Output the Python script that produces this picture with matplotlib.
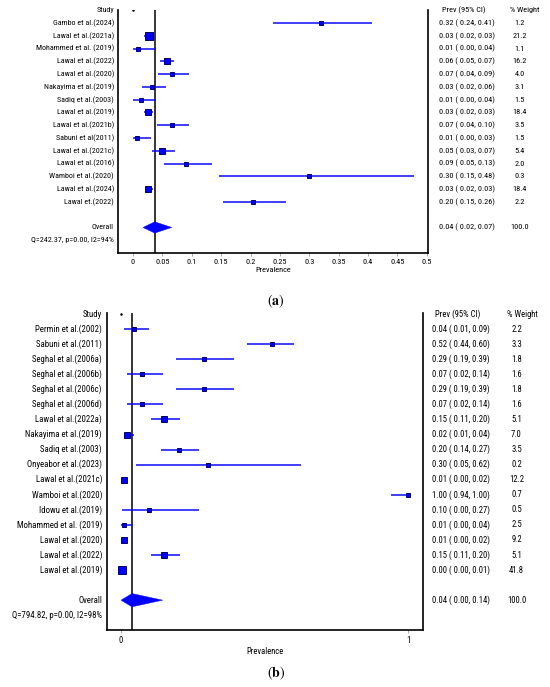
import matplotlib
matplotlib.use("Agg")
import matplotlib.pyplot as plt
import matplotlib.transforms as mtransforms
from matplotlib.patches import Polygon
from matplotlib import font_manager

# ---------------- data: panel (a) ----------------
studies_a = ["Gambo et al.(2024)", "Lawal et al.(2021a)", "Mohammed et al. (2019)", "Lawal et al.(2022)",
             "Lawal et al.(2020)", "Nakayima et al.(2019)", "Sadiq et al.(2003)", "Lawal et al.(2019)",
             "Lawal et al.(2021b)", "Sabuni et al(2011)", "Lawal et al.(2021c)", "Lawal et al.(2016)",
             "Wamboi et al.(2020)", "Lawal et al.(2024)", "Lawal et.(2022)"]
est_a = [0.320, 0.027, 0.009, 0.058, 0.067, 0.033, 0.013, 0.025, 0.066, 0.006, 0.050, 0.090, 0.300, 0.026, 0.204]
lo_a = [0.238, 0.018, 0.000, 0.046, 0.043, 0.015, 0.000, 0.019, 0.041, 0.000, 0.033, 0.053, 0.146, 0.020, 0.153]
hi_a = [0.406, 0.034, 0.039, 0.070, 0.095, 0.056, 0.040, 0.034, 0.095, 0.030, 0.071, 0.134, 0.478, 0.034, 0.260]
prev_txt_a = ["0.32", "0.03", "0.01", "0.06", "0.07", "0.03", "0.01", "0.03", "0.07", "0.01", "0.05", "0.09", "0.30", "0.03", "0.20"]
lo_txt_a = ["0.24", "0.02", "0.00", "0.05", "0.04", "0.02", "0.00", "0.02", "0.04", "0.00", "0.03", "0.05", "0.15", "0.02", "0.15"]
hi_txt_a = ["0.41", "0.03", "0.04", "0.07", "0.09", "0.06", "0.04", "0.03", "0.10", "0.03", "0.07", "0.13", "0.48", "0.03", "0.26"]
weight_a = [1.2, 21.2, 1.1, 16.2, 4.0, 3.1, 1.5, 18.4, 3.5, 1.5, 5.4, 2.0, 0.3, 18.4, 2.2]
overall_a = (0.037, 0.017, 0.066)
overall_txt_a = ("0.04", "0.02", "0.07", "100.0")
q_txt_a = "Q=242.37, p=0.00, I2=94%"
ticks_a = [0, 0.05, 0.1, 0.15, 0.2, 0.25, 0.3, 0.35, 0.4, 0.45, 0.5]
ticklabels_a = ["0", "0.05", "0.1", "0.15", "0.2", "0.25", "0.3", "0.35", "0.4", "0.45", "0.5"]

# ---------------- data: panel (b) ----------------
studies_b = ["Permin et al.(2002)", "Sabuni et al.(2011)", "Seghal et al.(2006a)", "Seghal et al.(2006b)",
             "Seghal et al.(2006c)", "Seghal et al.(2006d)", "Lawal et al.(2022a)", "Nakayima et al.(2019)",
             "Sadiq et al.(2003)", "Onyeabor et al.(2023)", "Lawal et al.(2021c)", "Wamboi et al.(2020)",
             "Idowu et al.(2019)", "Mohammed et al. (2019)", "Lawal et al.(2020)", "Lawal et al.(2022)",
             "Lawal et al.(2019)"]
est_b = [0.044, 0.525, 0.288, 0.073, 0.288, 0.073, 0.151, 0.022, 0.201, 0.303, 0.009, 1.000, 0.098, 0.010, 0.009, 0.151, 0.004]
lo_b = [0.009, 0.438, 0.190, 0.021, 0.190, 0.021, 0.106, 0.009, 0.139, 0.052, 0.000, 0.940, 0.003, 0.000, 0.000, 0.106, 0.000]
hi_b = [0.099, 0.604, 0.395, 0.147, 0.395, 0.147, 0.204, 0.045, 0.272, 0.627, 0.021, 1.000, 0.270, 0.043, 0.022, 0.204, 0.012]
prev_txt_b = ["0.04", "0.52", "0.29", "0.07", "0.29", "0.07", "0.15", "0.02", "0.20", "0.30", "0.01", "1.00", "0.10", "0.01", "0.01", "0.15", "0.00"]
lo_txt_b = ["0.01", "0.44", "0.19", "0.02", "0.19", "0.02", "0.11", "0.01", "0.14", "0.05", "0.00", "0.94", "0.00", "0.00", "0.00", "0.11", "0.00"]
hi_txt_b = ["0.09", "0.60", "0.39", "0.14", "0.39", "0.14", "0.20", "0.04", "0.27", "0.62", "0.02", "1.00", "0.27", "0.04", "0.02", "0.20", "0.01"]
weight_b = [2.2, 3.3, 1.8, 1.6, 1.8, 1.6, 5.1, 7.0, 3.5, 0.2, 12.2, 0.7, 0.5, 2.5, 9.2, 5.1, 41.8]
overall_b = (0.038, 0.000, 0.145)
overall_txt_b = ("0.04", "0.00", "0.14", "100.0")
q_txt_b = "Q=794.82, p=0.00, I2=98%"
ticks_b = [0, 1]
ticklabels_b = ["0", "1"]

# ---------------- style ----------------
W, H = 550, 687
DPI = 100

FONT = "Liberation Sans"
for cand in ["Liberation Sans Narrow", "Arial Narrow", "Roboto Condensed", "Noto Sans Condensed",
             "Open Sans Condensed"]:
    try:
        font_manager.findfont(font_manager.FontProperties(family=cand), fallback_to_default=False)
        FONT = cand
        break
    except Exception:
        pass

plt.rcParams["font.family"] = [FONT, "DejaVu Sans"]
plt.rcParams["mathtext.fontset"] = "stix"

LINE_BLUE = "#0a0aff"
FACE_BLUE = "#0000ff"
EDGE_BLUE = "#00006a"

fig = plt.figure(figsize=(W / DPI, H / DPI), dpi=DPI)
fig.patch.set_facecolor("white")
renderer = fig.canvas.get_renderer()


def size_for_width(sample, target_px):
    t = fig.text(0, 0, sample, fontsize=10)
    w = t.get_window_extent(renderer).width
    t.remove()
    return 10 * target_px / w


FS_A = size_for_width("Lawal et al.(2021a)", 60.7)
FS_B = size_for_width("Lawal et al.(2021c)", 65.7)
FS_TA = size_for_width("0.32 ( 0.24, 0.41)", 55.0)
FS_TB = size_for_width("0.04 ( 0.01, 0.09)", 57.7)


def px_ax(left, right, top, bottom):
    return fig.add_axes([left / W, 1 - bottom / H, (right - left) / W, (bottom - top) / H])


def forest(ax, studies, est, lo, hi, prev_txt, lo_txt, hi_txt, weight, overall, overall_txt, q_txt,
           ticks, ticklabels, xlim, ylim, fs, fst, label_x, val_x, head_prev_x, head_w_x, wt_x, overall_row):
    ax.set_xlim(*xlim)
    ax.set_ylim(*ylim)
    for s in ["left", "bottom", "right"]:
        ax.spines[s].set_linewidth(1.2)
        ax.spines[s].set_color("black")
    ax.spines["top"].set_visible(False)
    ax.set_yticks([])
    ax.set_xticks(ticks)
    ax.set_xticklabels(ticklabels)
    ax.tick_params(axis="x", direction="out", length=2, width=0.6, color="#999999",
                   labelsize=fst, pad=2.0)
    ax.set_xlabel("Prevalence", fontsize=fst, labelpad=1.5)

    ax.axvline(overall[0], color="black", lw=1.1, zorder=1)
    ax.plot([0], [0], marker="o", ms=0.8, color="black", zorder=3)

    rows = list(range(1, len(studies) + 1))
    for r, e, l, h, w in zip(rows, est, lo, hi, weight):
        ax.plot([l, h], [r, r], color=LINE_BLUE, lw=1.1, solid_capstyle="butt", zorder=2)
        side_px = 3.0 + 0.9 * (w ** 0.5)
        ax.plot([e], [r], marker="s", ms=side_px * 72 / DPI, markerfacecolor=FACE_BLUE,
                markeredgecolor=EDGE_BLUE, markeredgewidth=0.7, zorder=3)

    e, l, h = overall
    hh = 0.44
    ax.add_patch(Polygon([(l, overall_row), (e, overall_row - hh), (h, overall_row), (e, overall_row + hh)],
                         closed=True, facecolor=FACE_BLUE, edgecolor=FACE_BLUE, lw=0.3, zorder=3))

    tr = mtransforms.blended_transform_factory(fig.transFigure, ax.transData)
    kw = dict(transform=tr, va="center", fontsize=fs, clip_on=False)
    kwt = dict(transform=tr, va="center", fontsize=fst, clip_on=False)
    ax.text(label_x / W, 0, "Study", ha="right", **kw)
    for r, s in zip(rows, studies):
        ax.text(label_x / W, r, s, ha="right", **kw)
    ax.text(label_x / W, overall_row, "Overall", ha="right", **kw)
    ax.text(label_x / W, overall_row + 1, q_txt, ha="right", **kw)

    ax.text(head_prev_x / W, 0, "Prev (95% CI)", ha="left", **kwt)
    ax.text(head_w_x / W, 0, "% Weight", ha="left", **kwt)
    for r, p, l, h, w in zip(rows, prev_txt, lo_txt, hi_txt, weight):
        ax.text(val_x / W, r, f"{p} ( {l}, {h})", ha="left", **kwt)
        ax.text(wt_x / W, r, f"{w:.1f}", ha="center", **kwt)
    op, ol, oh, ow = overall_txt
    ax.text(val_x / W, overall_row, f"{op} ( {ol}, {oh})", ha="left", **kwt)
    ax.text(wt_x / W, overall_row, ow, ha="center", **kwt)


ax_a = px_ax(118, 428, 10, 253)
forest(ax_a, studies_a, est_a, lo_a, hi_a, prev_txt_a, lo_txt_a, hi_txt_a, weight_a, overall_a, overall_txt_a,
       q_txt_a, ticks_a, ticklabels_a, xlim=(-0.0255, 0.502), ylim=(19.0, -0.02), fs=FS_A, fst=FS_TA,
       label_x=114, val_x=439, head_prev_x=442, head_w_x=510.5, wt_x=519.5, overall_row=17)

ax_b = px_ax(107, 423, 313, 630)
forest(ax_b, studies_b, est_b, lo_b, hi_b, prev_txt_b, lo_txt_b, hi_txt_b, weight_b, overall_b, overall_txt_b,
       q_txt_b, ticks_b, ticklabels_b, xlim=(-0.049, 1.052), ylim=(20.98, -0.07), fs=FS_B, fst=FS_TB,
       label_x=102, val_x=432.5, head_prev_x=435, head_w_x=507, wt_x=516.5, overall_row=19)

fig.text(275.5 / W, 1 - 301 / H, r"$(\mathbf{a})$", ha="center", va="center", fontsize=10)
fig.text(276 / W, 1 - 673 / H, r"$(\mathbf{b})$", ha="center", va="center", fontsize=10)

fig.savefig("out.png", dpi=DPI, facecolor="white")
